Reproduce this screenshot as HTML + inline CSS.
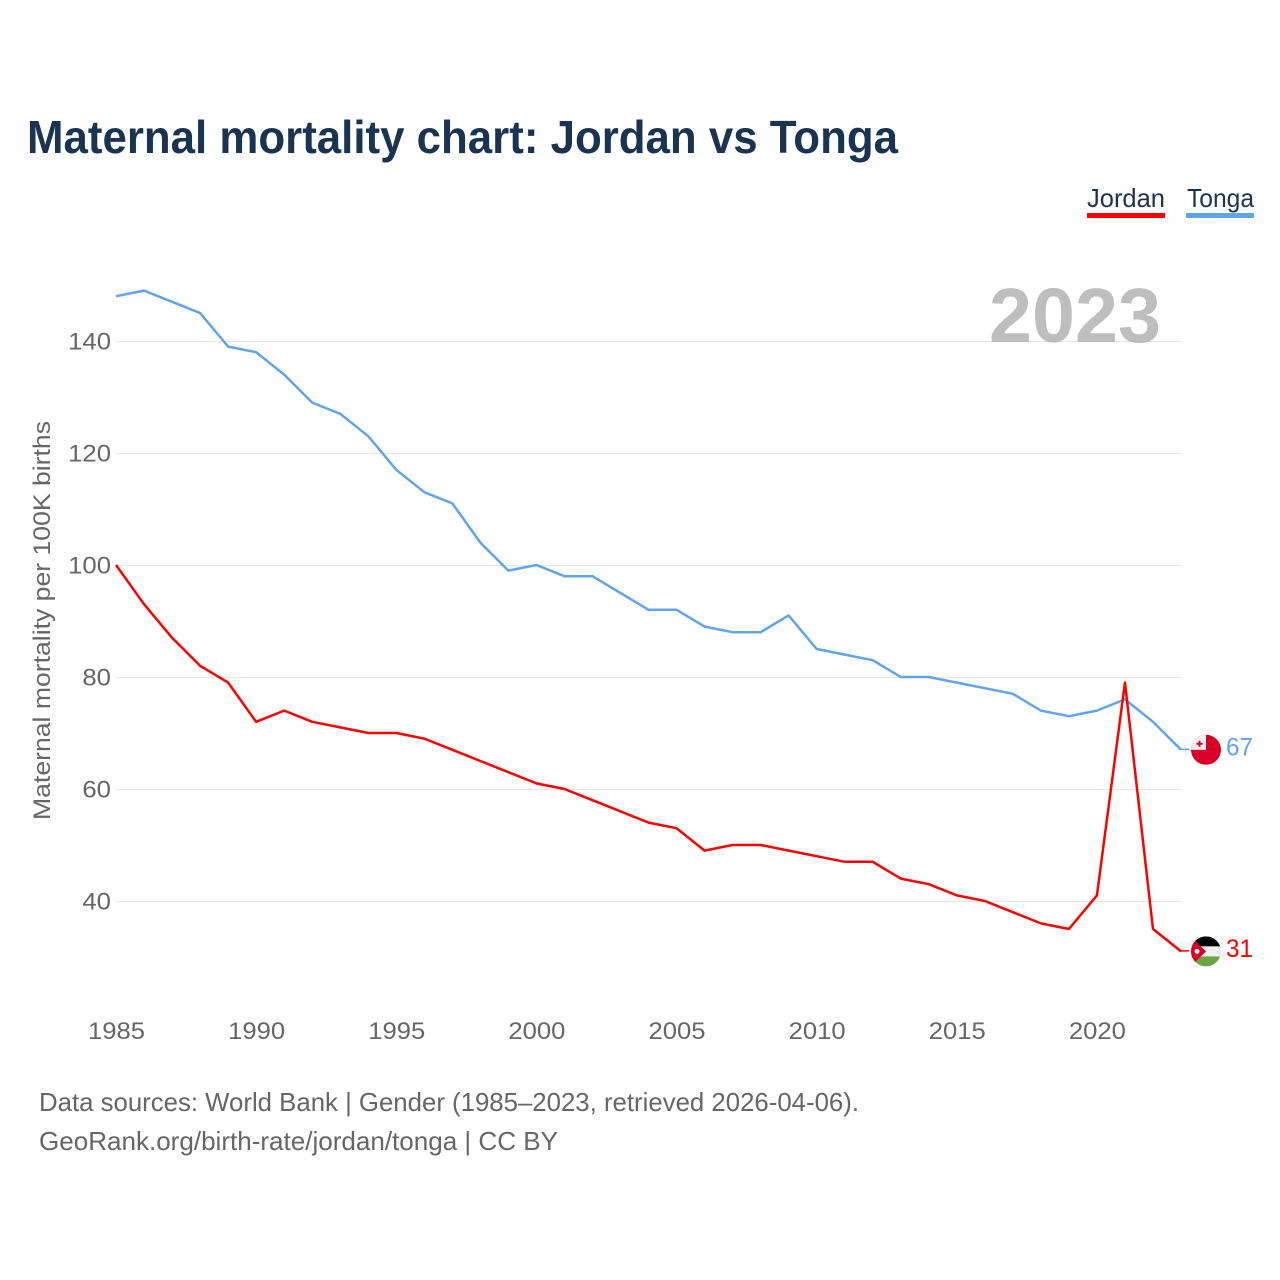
<!DOCTYPE html>
<html lang="en">
<head>
<meta charset="utf-8">
<title>Maternal mortality chart: Jordan vs Tonga</title>
<style>
html,body{margin:0;padding:0;background:#fff;width:1280px;height:1280px;overflow:hidden}
svg{display:block}
text{font-family:"Liberation Sans",sans-serif}
</style>
</head>
<body>
<svg id="chart" xmlns="http://www.w3.org/2000/svg" width="1280" height="1280" viewBox="0 0 1280 1280">
  <defs>
    <clipPath id="flag-clip"><circle cx="0" cy="0" r="15"></circle></clipPath>
  </defs>
  <rect x="0" y="0" width="1280" height="1280" fill="#fff"></rect>
  <text x="27" y="153" font-size="46" font-weight="700" fill="#1a3353" textLength="871" lengthAdjust="spacingAndGlyphs">Maternal mortality chart: Jordan vs Tonga</text>

  <g>
    <text x="1087" y="207" font-size="26" fill="#1a3353" textLength="78" lengthAdjust="spacingAndGlyphs">Jordan</text>
    <rect x="1087" y="213" width="78" height="5" fill="#ff0000"></rect>
  </g>
  <g>
    <text x="1187" y="207" font-size="26" fill="#1a3353" textLength="67" lengthAdjust="spacingAndGlyphs">Tonga</text>
    <rect x="1186" y="213" width="68" height="5" fill="#60a5ec"></rect>
  </g>

  <g id="grid"></g>
  <text x="1161" y="342" font-size="77" font-weight="700" fill="#a8a8a8" fill-opacity="0.75" text-anchor="end" textLength="172" lengthAdjust="spacingAndGlyphs">2023</text>
  <g id="y-ticks"></g>
  <g id="x-ticks"></g>
  <text transform="translate(50,620.5) rotate(-90)" font-size="24" fill="#666" text-anchor="middle" textLength="399" lengthAdjust="spacingAndGlyphs">Maternal mortality per 100K births</text>

  <polyline id="line-tonga" fill="none" stroke="#60a5ec" stroke-width="2.5" stroke-linejoin="round"></polyline>
  <polyline id="line-jordan" fill="none" stroke="#ff0000" stroke-width="2.5" stroke-linejoin="round"></polyline>
  <line id="leader-tonga" stroke="#60a5ec" stroke-width="1.5"></line>
  <line id="leader-jordan" stroke="#ff0000" stroke-width="1.5"></line>

  <g id="flag-tonga">
    <g clip-path="url(#flag-clip)">
      <rect x="-15" y="-15" width="30" height="30" fill="#d80027"></rect>
      <rect x="-15" y="-15" width="15" height="15" fill="#f0f0f0"></rect>
      <rect x="-7.5" y="-9" width="2" height="6" fill="#d80027"></rect>
      <rect x="-9.5" y="-7" width="6" height="2" fill="#d80027"></rect>
    </g>
  </g>
  <g id="flag-jordan">
    <g clip-path="url(#flag-clip)">
      <rect x="-15" y="-15" width="30" height="10" fill="#000"></rect>
      <rect x="-15" y="-5" width="30" height="10" fill="#f0f0f0"></rect>
      <rect x="-15" y="5" width="30" height="10" fill="#6da544"></rect>
      <polygon points="-18,-17.5 0,0 -18,17.5" fill="#d80027"></polygon>
      <circle cx="-9" cy="0" r="2.5" fill="#f0f0f0"></circle>
    </g>
  </g>
  <text id="value-tonga" x="1226" font-size="25" fill="#60a5ec" textLength="27" lengthAdjust="spacingAndGlyphs"></text>
  <text id="value-jordan" x="1226" font-size="25" fill="#ff0000" textLength="27" lengthAdjust="spacingAndGlyphs"></text>

  <text x="39" y="1111" font-size="26" fill="#666" textLength="820" lengthAdjust="spacingAndGlyphs">Data sources: World Bank | Gender (1985–2023, retrieved 2026-04-06).</text>
  <a><text x="39" y="1150" font-size="26" fill="#666" textLength="519" lengthAdjust="spacingAndGlyphs">GeoRank.org/birth-rate/jordan/tonga | CC BY</text></a>
</svg>
<script>
const years = [1985,1986,1987,1988,1989,1990,1991,1992,1993,1994,1995,1996,1997,1998,1999,2000,2001,2002,2003,2004,2005,2006,2007,2008,2009,2010,2011,2012,2013,2014,2015,2016,2017,2018,2019,2020,2021,2022,2023];
const tongaValues = [148,149,147,145,139,138,134,129,127,123,117,113,111,104,99,100,98,98,95,92,92,89,88,88,91,85,84,83,80,80,79,78,77,74,73,74,76,72,67];
const jordanValues = [100,93,87,82,79,72,74,72,71,70,70,69,67,65,63,61,60,58,56,54,53,49,50,50,49,48,47,47,44,43,41,40,38,36,35,41,79,35,31];
const yTickValues = [40,60,80,100,120,140];
const xTickValues = [1985,1990,1995,2000,2005,2010,2015,2020];

const SVG_NS = 'http://www.w3.org/2000/svg';
function xScale(year) { return 116 + (year - 1985) * (1181 - 116) / (2023 - 1985); }
function yScale(value) { return 901.5 - (value - 40) * 5.6; }

const gridGroup = document.getElementById('grid');
const yTickGroup = document.getElementById('y-ticks');
const xTickGroup = document.getElementById('x-ticks');

yTickValues.forEach(function (v) {
  const y = yScale(v);
  const line = document.createElementNS(SVG_NS, 'line');
  
  
  line.setAttribute('x1', 116);
  line.setAttribute('x2', 1181);
  line.setAttribute('y1', y);
  line.setAttribute('y2', y);
  line.setAttribute('stroke', '#e6e6e6');
  line.setAttribute('stroke-width', '1');
  gridGroup.appendChild(line);

  const label = document.createElementNS(SVG_NS, 'text');
  
  
  label.setAttribute('x', 111);
  label.setAttribute('y', y + 8);
  label.setAttribute('font-size', '24');
  label.setAttribute('fill', '#666');
  label.setAttribute('text-anchor', 'end');
  label.setAttribute('textLength', String(v).length * 14.3);
  label.setAttribute('lengthAdjust', 'spacingAndGlyphs');
  label.textContent = v;
  yTickGroup.appendChild(label);
});

xTickValues.forEach(function (yr) {
  const label = document.createElementNS(SVG_NS, 'text');
  
  
  label.setAttribute('x', xScale(yr) + 0.5);
  label.setAttribute('y', 1039);
  label.setAttribute('font-size', '24');
  label.setAttribute('fill', '#666');
  label.setAttribute('text-anchor', 'middle');
  label.setAttribute('textLength', 57);
  label.setAttribute('lengthAdjust', 'spacingAndGlyphs');
  label.textContent = yr;
  xTickGroup.appendChild(label);
});

function drawSeries(key, values) {
  const pts = years.map(function (yr, i) { return xScale(yr).toFixed(2) + ',' + (yScale(values[i]) - 0.5).toFixed(2); });
  document.getElementById('line-' + key).setAttribute('points', pts.join(' '));
  const last = values[values.length - 1];
  const endY = yScale(last) - 1;
  const leader = document.getElementById('leader-' + key);
  leader.setAttribute('x1', xScale(years[years.length - 1]));
  leader.setAttribute('x2', 1189);
  leader.setAttribute('y1', endY);
  leader.setAttribute('y2', endY);
  document.getElementById('flag-' + key).setAttribute('transform', 'translate(1206,' + (endY + 0.5) + ')');
  const valueLabel = document.getElementById('value-' + key);
  valueLabel.setAttribute('y', endY + 6);
  valueLabel.textContent = last;
}
drawSeries('tonga', tongaValues);
drawSeries('jordan', jordanValues);
</script>
</body>
</html>
